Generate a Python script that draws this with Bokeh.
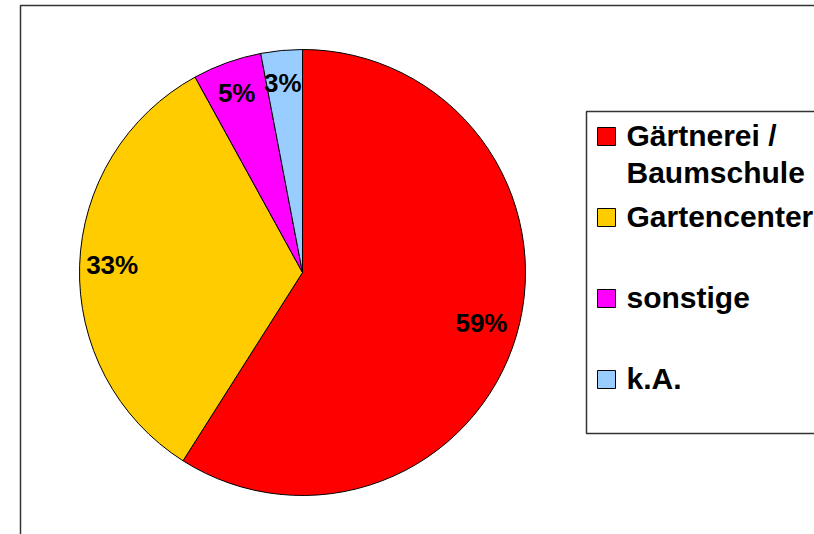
import numpy as np
from bokeh.plotting import figure
from bokeh.models import Range1d, ColumnDataSource
from bokeh.core.properties import value
from bokeh.embed import file_html
from bokeh.resources import INLINE

# ---- data ----
categories = ["Gärtnerei /\nBaumschule", "Gartencenter", "sonstige", "k.A."]
percents = [59, 33, 5, 3]
colors = ["#FF0000", "#FFCC00", "#FF00FF", "#99CCFF"]
pct_labels = ["59%", "33%", "5%", "3%"]

W, H = 814, 534
FONT = "Liberation Sans"

p = figure(width=W, height=H, x_range=Range1d(0, W), y_range=Range1d(0, H),
           output_backend="svg", toolbar_location=None, min_border=0,
           outline_line_color=None, background_fill_color="white")
p.axis.visible = False
p.grid.visible = False

# outer chart border
p.quad(left=[20], right=[W + 20], bottom=[-20], top=[529],
       fill_color=None, line_color="#333333", line_width=1.5)

# pie
cx, cy, r = 302, 262, 223
frac = np.array(percents, dtype=float) / sum(percents)
cum = np.concatenate([[0], np.cumsum(frac)])
start = np.pi / 2 - 2 * np.pi * cum[:-1]
end = np.pi / 2 - 2 * np.pi * cum[1:]
mid = (start + end) / 2

src = ColumnDataSource(dict(start=start, end=end, color=colors))
p.wedge(x=cx, y=cy, radius=r, start_angle="start", end_angle="end",
        direction="clock", fill_color="color", line_color="black",
        line_width=1, source=src)

lr = 0.845 * r
p.text(x=cx + lr * np.cos(mid) - 2, y=cy + lr * np.sin(mid) + 2, text=pct_labels,
       text_font=value(FONT), text_font_style="bold", text_font_size="26px",
       text_align="center", text_baseline="middle", text_color="black")

# legend box
p.quad(left=[586], right=[W + 20], bottom=[101], top=[423],
       fill_color="white", line_color="#333333", line_width=1.5)

n = len(categories)
ly = 398 - 81 * np.arange(n)
p.rect(x=[606] * n, y=ly, width=18, height=18, fill_color=colors,
       line_color="black", line_width=1)
p.text(x=[626] * n, y=ly + 18, text=categories, text_font=value(FONT),
       text_font_style="bold", text_font_size="30px", text_align="left",
       text_baseline="top", text_color="black", text_line_height=1.15)

open("out.html", "w").write(file_html(p, INLINE))
